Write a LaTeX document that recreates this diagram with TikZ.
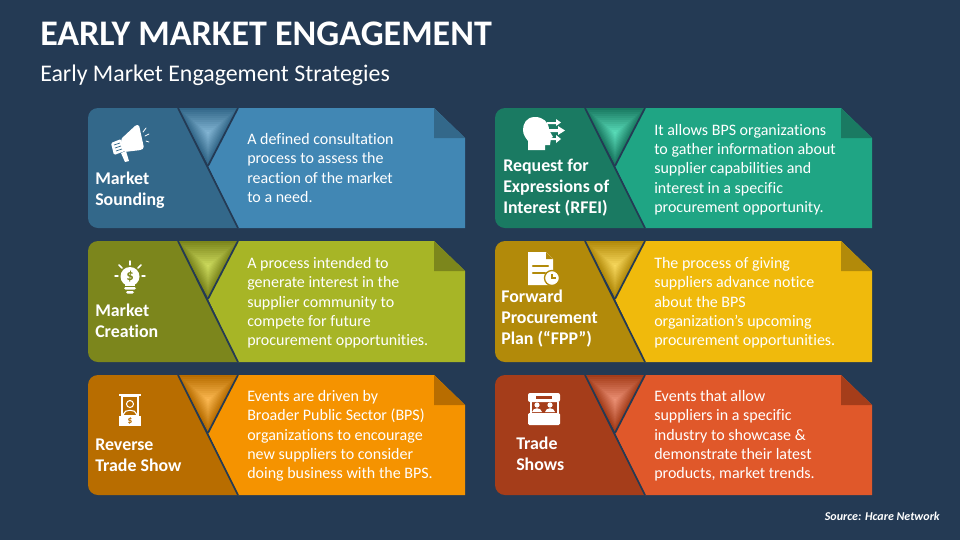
\documentclass[tikz,border=0pt]{standalone}
\usepackage{fontspec}
\setmainfont[Ligatures=NoCommon]{Carlito}
\usetikzlibrary{calc}
\definecolor{slide}{HTML}{243A54}
\definecolor{blueA}{HTML}{4187B4}
\definecolor{blueB}{HTML}{33688A}
\definecolor{blueC}{HTML}{86B8D6}
\definecolor{greenA}{HTML}{1FA584}
\definecolor{greenB}{HTML}{1A7A62}
\definecolor{greenC}{HTML}{5CE0BC}
\definecolor{oliveA}{HTML}{A7B526}
\definecolor{oliveB}{HTML}{7C861C}
\definecolor{oliveC}{HTML}{D0DE60}
\definecolor{yellowA}{HTML}{F0BA0C}
\definecolor{yellowB}{HTML}{B28A0A}
\definecolor{yellowC}{HTML}{FADB60}
\definecolor{orangeA}{HTML}{F59300}
\definecolor{orangeB}{HTML}{B86D00}
\definecolor{orangeC}{HTML}{FFBC55}
\definecolor{redA}{HTML}{E0582A}
\definecolor{redB}{HTML}{A53D1A}
\definecolor{redC}{HTML}{EE9378}
\tikzset{
  heading/.style={anchor=west, inner sep=0pt, text=white, align=left, font=\fontsize{13.4}{15.8}\selectfont\bfseries},
  bodytext/.style={anchor=west, inner sep=0pt, text=white, align=left, font=\fontsize{12}{14.5}\selectfont},
  icon/.style={fill=white, draw=none},
  iconline/.style={draw=white, line width=1.1pt, line cap=round},
}
% card: left edge, top edge, height, colours A B C
\newcommand{\drawcard}[4]{
  \begin{scope}[shift={(#1,#2)}]
    \fill[#4A] (150,0) -- (346,0) -- (377,30) -- (377,#3) -- (150,#3) -- (120,58) -- cycle;
    \fill[#4B] (346,0) -- (377,30) -- (346,30) -- cycle;
    \fill[#4B] (90,0) -- (150,#3) [rounded corners=7.5pt] -- (0,#3) -- (0,0) [sharp corners] -- cycle;
    \foreach \s in {100,92,...,4}{
      \pgfmathsetmacro{\mixval}{100-\s}
      \fill[#4C!\mixval!#4B]
        ($(120,25)!\s/100!(90,0)$) -- ($(120,25)!\s/100!(150,0)$) -- ($(120,25)!\s/100!(120,57)$) -- cycle;
    }
    \draw[slide, line width=1.3pt] (90,0) -- (150,#3);
    \draw[slide, line width=1.3pt] (150,0) -- (120,58);
  \end{scope}
}
\begin{document}
\begin{tikzpicture}[x=0.75pt, y=-0.75pt]
  \fill[slide] (0,0) rectangle (960,540);

  \node[anchor=west, inner sep=0pt, text=white, font=\fontsize{27}{30}\selectfont\bfseries] (title) at (40,34) {EARLY MARKET ENGAGEMENT};
  \node[anchor=west, inner sep=0pt, text=white, font=\fontsize{17.9}{20}\selectfont] (subtitle) at (40,75.5) {Early Market Engagement Strategies};

  \drawcard{88}{108}{120}{blue}
  \drawcard{495}{108}{120}{green}
  \drawcard{88}{241}{121}{olive}
  \drawcard{495}{241}{121}{yellow}
  \drawcard{88}{375}{120}{orange}
  \drawcard{495}{375}{120}{red}

  \node[heading] (sounding) at (95,190.5) {Market\\Sounding};
  \node[heading] (rfei) at (503,188) {Request for\\Expressions of\\Interest (RFEI)};
  \node[heading] (creation) at (95,320.5) {Market\\Creation};
  \node[heading] (fpp) at (501,319) {Forward\\Procurement\\Plan (“FPP”)};
  \node[heading] (reverse) at (95,455.5) {Reverse\\Trade Show};
  \node[heading] (shows) at (516,453.5) {Trade\\Shows};

  \node[bodytext] (soundingtext) at (247,168) {A defined consultation\\process to assess the\\reaction of the market\\to a need.};
  \node[bodytext] (rfeitext) at (654,169.5) {It allows BPS organizations\\to gather information about\\supplier capabilities and\\interest in a specific\\procurement opportunity.};
  \node[bodytext] (creationtext) at (247,303) {A process intended to\\generate interest in the\\supplier community to\\compete for future\\procurement opportunities.};
  \node[bodytext] (fpptext) at (654,303) {The process of giving\\suppliers advance notice\\about the BPS\\organization’s upcoming\\procurement opportunities.};
  \node[bodytext] (reversetext) at (247,436) {Events are driven by\\Broader Public Sector (BPS)\\organizations to encourage\\new suppliers to consider\\doing business with the BPS.};
  \node[bodytext] (showstext) at (654,436) {Events that allow\\suppliers in a specific\\industry to showcase \&\\demonstrate their latest\\products, market trends.};

  \node[anchor=east, inner sep=0pt, text=white, font=\fontsize{9}{11}\selectfont\bfseries\itshape] (source) at (940,516) {Source: Hcare Network};

  % megaphone
  \fill[icon, rounded corners=1pt] (121,139) -- (136,125) -- (139,125) -- (144,148) -- (141,150) -- (124,152) -- cycle;
  \fill[icon, rounded corners=1pt] (111,143) -- (121,139) -- (125,151) -- (114,155) -- cycle;
  \draw[blueB, line width=.5pt] (114,145) -- (120,143);
  \draw[blueB, line width=.5pt] (115,148) -- (121,146);
  \draw[blueB, line width=.5pt] (116,151) -- (122,149);
  \fill[icon] (121,153) -- (126,151) -- (129,161) -- (125,162) -- cycle;
  \draw[iconline, line width=.6pt] (143,132) -- (146,128);
  \draw[iconline, line width=.6pt] (145,136) -- (149,134);
  \draw[iconline, line width=.6pt] (146,141) -- (149,142);

  % head with arrows
  \fill[icon] (535,117) .. controls (526,117) and (523,124) .. (523,130) .. controls (523,135) and (526,138) .. (528,141) -- (528,150) -- (545,150) -- (545,145) -- (550,145) -- (551,138) -- (553,137) -- (549,130) .. controls (549,122) and (543,117) .. (535,117) -- cycle;
  \fill[icon] (547,122) -- (556,122) -- (556,119) -- (561,122.5) -- (556,126) -- (556,124) -- (547,124) -- cycle;
  \fill[icon] (549,129) -- (558,129) -- (558,126) -- (565,130.5) -- (558,135) -- (558,132) -- (549,132) -- cycle;
  \fill[icon] (547,138) -- (556,138) -- (556,135) -- (561,139) -- (556,143) -- (556,140) -- (547,140) -- cycle;

  % light bulb
  \fill[icon] (130,276.5) circle (9.5);
  \fill[icon] (125,281) rectangle (135,286);
  \fill[icon, rounded corners=1pt] (124,287) rectangle (136,289.5);
  \fill[icon, rounded corners=1pt] (126,291) rectangle (134,293.5);
  \draw[iconline] (130,261) -- (130,265);
  \node[inner sep=0pt, text=oliveB, font=\fontsize{11}{11}\selectfont\bfseries] (dollarbulb) at (130,276.5) {\$};
  \draw[iconline] (115,276) -- (118,276);
  \draw[iconline] (142,276) -- (145,276);
  \draw[iconline] (119,265) -- (122,268);
  \draw[iconline] (141,265) -- (138,268);

  % document with clock
  \fill[icon] (528,252) -- (546,252) -- (553,259) -- (553,285) -- (528,285) -- cycle;
  \fill[yellowB] (546,252) -- (553,259) -- (546,259) -- cycle;
  \draw[yellowB, line width=1.6pt, line cap=round] (533,266) -- (548,266);
  \draw[yellowB, line width=1.6pt, line cap=round] (533,273) -- (545,273);
  \fill[icon, draw=yellowB, line width=1pt] (552,278) circle (7.5);
  \draw[yellowB, line width=.8pt] (552,274) -- (552,278) -- (556,278);

  % reverse trade show booth
  \fill[icon] (119,394) rectangle (141,396);
  \draw[white, line width=.8pt] (122,396) rectangle (138,416);
  \draw[white, line width=.8pt] (130,404) circle (3.5);
  \draw[white, line width=.8pt] (123.5,416) -- (123.5,414) .. controls (124,409) and (136,409) .. (136.5,414) -- (136.5,416);
  \fill[icon] (119,416) rectangle (141,426);
  \node[inner sep=0pt, text=orangeB, font=\fontsize{7}{7}\selectfont\bfseries] (dollarbooth) at (130,421) {\$};

  % trade show stand
  \fill[icon, rounded corners=1.5pt] (528,393) rectangle (560,402);
  \fill[redB] (536,395.5) rectangle (552,398.5);
  \fill[icon] (530,402) rectangle (531.5,413);
  \fill[icon] (557,402) rectangle (558.5,413);
  \fill[icon, rounded corners=1pt] (528,413) rectangle (560,425);
  \fill[icon] (537,405) circle (2.6);
  \fill[icon] (532,412) .. controls (533,407) and (541,407) .. (542,412) -- cycle;
  \fill[icon] (550,405) circle (2.6);
  \fill[icon] (545,412) .. controls (546,407) and (554,407) .. (555,412) -- cycle;
\end{tikzpicture}
\end{document}
